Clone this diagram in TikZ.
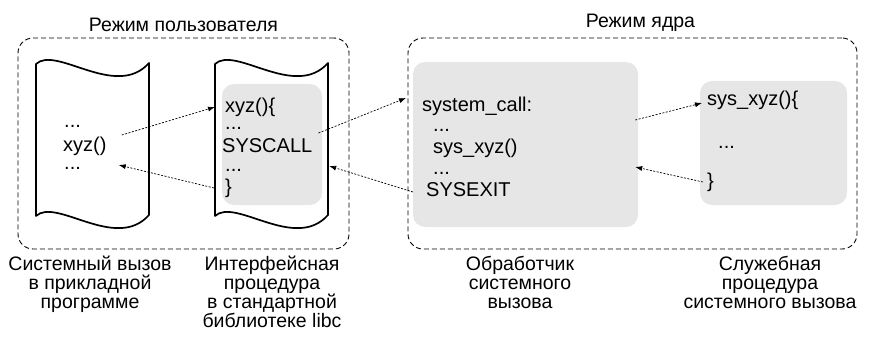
\documentclass[tikz,border=0pt]{standalone}
\usepackage{fontspec}
\setmainfont{Liberation Sans}
\usetikzlibrary{arrows.meta,
                positioning}
\definecolor{boxgray}{RGB}{230,230,230}
\tikzset{
        modebox/.style={draw, line width=0.9pt, dash pattern=on 5pt off 3pt,
                        rounded corners=15pt},
        docpage/.style={draw, line width=1.7pt, line join=round},
        fnbox/.style={fill=boxgray, rounded corners=12pt},
        codeline/.style={anchor=west, inner sep=0pt,
                         font=\fontsize{20}{21}\selectfont},
        modetitle/.style={inner sep=0pt, font=\fontsize{19.5}{21}\selectfont},
        caplabel/.style={align=center, anchor=north, inner sep=0pt,
                         font=\fontsize{19.5}{19}\selectfont},
        callarrow/.style={-{Latex[length=7pt,width=5pt]}, line width=0.7pt,
                          dash pattern=on 2pt off 1.5pt},
 }

\begin{document}
\begin{tikzpicture}[x=1pt, y=-1pt]
    \useasboundingbox (0,0) rectangle (873,345);

    \node[modebox, minimum width=331pt, minimum height=211pt] (user) at (183.5,143.5) {};
    \node[modebox, minimum width=449pt, minimum height=211pt] (kernel) at (632.5,143.5) {};
    \node[modetitle, above=6pt of user] (usertitle) {Режим пользователя};
    \node[modetitle, above=6pt of kernel, xshift=8pt] (kerneltitle) {Режим ядра};

    % program pages
    \draw[docpage] (36,64) .. controls (56,45) and (116,100) .. (149,63)
        -- (149,215) .. controls (116,252) and (56,197) .. (36,216) -- cycle;
    \draw[docpage] (215,64) .. controls (235,45) and (295,100) .. (328,63)
        -- (328,215) .. controls (295,252) and (235,197) .. (215,216) -- cycle;

    \node[fnbox, minimum width=100pt, minimum height=121pt] (wrapper) at (272,144.5) {};
    \node[fnbox, minimum width=225pt, minimum height=165pt] (handler) at (525.5,144.5) {};
    \node[fnbox, minimum width=147pt, minimum height=124pt] (service) at (773.5,143) {};

    \node[codeline] (appdots1) at (64,126) {...};
    \node[codeline] (callxyz) at (63,146) {xyz()};
    \node[codeline] (appdots2) at (64,168) {...};

    \node[codeline] (wrapxyz) at (225,107) {xyz()\{};
    \node[codeline] (wrapdots1) at (225,128) {...};
    \node[codeline] (syscall) at (222,146) {SYSCALL};
    \node[codeline] (wrapdots2) at (225,170) {...};
    \node[codeline] (wrapend) at (225,188) {\}};

    \node[codeline] (entry) at (422,106) {system\_call:};
    \node[codeline] (handlerdots1) at (433,130) {...};
    \node[codeline] (callsys) at (433,148) {sys\_xyz()};
    \node[codeline] (handlerdots2) at (433,173) {...};
    \node[codeline] (sysexit) at (426,190) {SYSEXIT};

    \node[codeline] (servxyz) at (707,100) {sys\_xyz()\{};
    \node[codeline] (servdots) at (718,147) {...};
    \node[codeline] (servend) at (707,182) {\}};

    \draw[callarrow] ([xshift=15pt,yshift=11pt]callxyz.east) -- ([xshift=-10pt]wrapxyz.west);
    \draw[callarrow] ([xshift=-11pt]wrapend.west) -- ([xshift=12pt,yshift=-19pt]callxyz.east);
    \draw[callarrow] ([xshift=6pt,yshift=13pt]syscall.east) -- ([xshift=-16pt,yshift=8pt]entry.west);
    \draw[callarrow] ([xshift=-13pt,yshift=-2pt]sysexit.west) -- ([xshift=7pt,yshift=-21.5pt]wrapper.east);
    \draw[callarrow] ([xshift=-3pt,yshift=24.5pt]handler.east) -- ([xshift=-5pt,yshift=-3pt]servxyz.west);
    \draw[callarrow] ([xshift=-4pt]servend.west) -- ([xshift=-3pt,yshift=-22.5pt]handler.east);

    \node[caplabel] (appcap) at (90,256) {Системный вызов\\в прикладной\\программе};
    \node[caplabel] (libcap) at (272,256) {Интерфейсная\\процедура\\в стандартной\\библиотеке libc};
    \node[caplabel] (handlercap) at (520,256) {Обработчик\\системного\\вызова};
    \node[caplabel] (servicecap) at (770,256) {Служебная\\процедура\\системного вызова};
\end{tikzpicture}
\end{document}
